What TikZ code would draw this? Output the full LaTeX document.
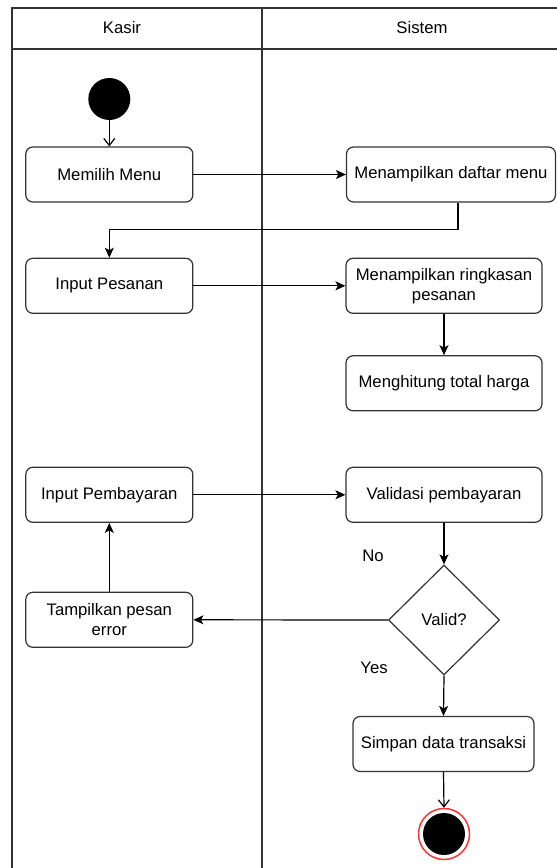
\documentclass[tikz,border=0pt]{standalone}
\usepackage{fontspec}
\setmainfont{Liberation Sans}
\usetikzlibrary{arrows.meta,shapes.geometric,calc}
\definecolor{edge}{HTML}{333333}
\definecolor{endred}{HTML}{FF3333}
\begin{document}
\begin{tikzpicture}[x=1pt,y=-1pt,
  every node/.style={font=\fontsize{16.7}{20}\selectfont, text=black},
  act/.style={draw=edge, line width=1.2pt, rounded corners=7pt, fill=white, minimum height=55pt, align=center, inner sep=2pt},
  kact/.style={act, minimum width=167pt},
  sact/.style={act, minimum width=196pt},
  dec/.style={draw=edge, line width=1.2pt, diamond, fill=white, minimum width=111pt, minimum height=110pt, inner sep=0pt},
  lane/.style={draw=edge, line width=1.4pt},
  arr/.style={draw=black, line width=1.2pt, -{Stealth[length=10pt,width=9pt,inset=2.5pt]}},
  oarr/.style={draw=black, line width=1.2pt, -{Straight Barb[length=7pt,width=11pt]}},
  lbl/.style={inner sep=0pt}
]
\useasboundingbox (0,0) rectangle (557,868);
\fill[white] (0,0) rectangle (557,868);
% swimlanes
\draw[lane] (12,868) -- (12,8) -- (557,8);
\draw[lane] (12,49) -- (557,49);
\draw[lane] (262,8) -- (262,868);
\node[lbl] (hk) at (122,28) {Kasir};
\node[lbl] (hs) at (422,28) {Sistem};
% start / end
\node[circle, fill=black, minimum size=42pt, inner sep=0pt] (start) at (109.3,99) {};
\node[circle, draw=endred, line width=1.5pt, fill=white, minimum size=51pt, inner sep=0pt] (end) at (444,834) {};
\node[circle, fill=black, minimum size=42pt, inner sep=0pt] (endin) at (444,834) {};
% activities
\node[kact] (memilih) at (109.3,174.5) {Memilih Menu};
\node[act, minimum width=209pt] (daftar) at (451,174.5) {Menampilkan daftar menu};
\node[kact] (inpes) at (109.3,285.8) {Input Pesanan};
\node[sact] (ringkas) at (444,285.8) {Menampilkan ringkasan\\pesanan};
\node[sact] (hitung) at (444,383.3) {Menghitung total harga};
\node[kact] (inbayar) at (109.3,494.8) {Input Pembayaran};
\node[sact] (validasi) at (444,494.8) {Validasi pembayaran};
\node[dec] (valid) at (444,620) {Valid?};
\node[kact] (error) at (109.3,619.8) {Tampilkan pesan\\error};
\node[act, minimum width=181pt] (simpan) at (443.5,744) {Simpan data transaksi};
\node[lbl] (no) at (373,556) {No};
\node[lbl] (yes) at (374,668) {Yes};
% connectors
\draw[oarr] (start) -- (memilih.north);
\draw[arr] (memilih.east) -- (daftar.west);
\coordinate (bend) at (458,229.3);
\draw[arr] (daftar.south -| bend) -- (bend) -| (inpes.north);
\draw[arr] (inpes.east) -- (ringkas.west);
\draw[arr] (ringkas.south) -- (hitung.north);
\draw[arr] (inbayar.east) -- (validasi.west);
\draw[arr] (validasi.south) -- (valid.north);
\draw[arr] (valid.west) -- (error.east);
\draw[arr] (error.north) -- (inbayar.south);
\draw[arr] (valid.south) -- (simpan.north);
\draw[oarr] (simpan.south) -- (end.north);
\end{tikzpicture}
\end{document}
